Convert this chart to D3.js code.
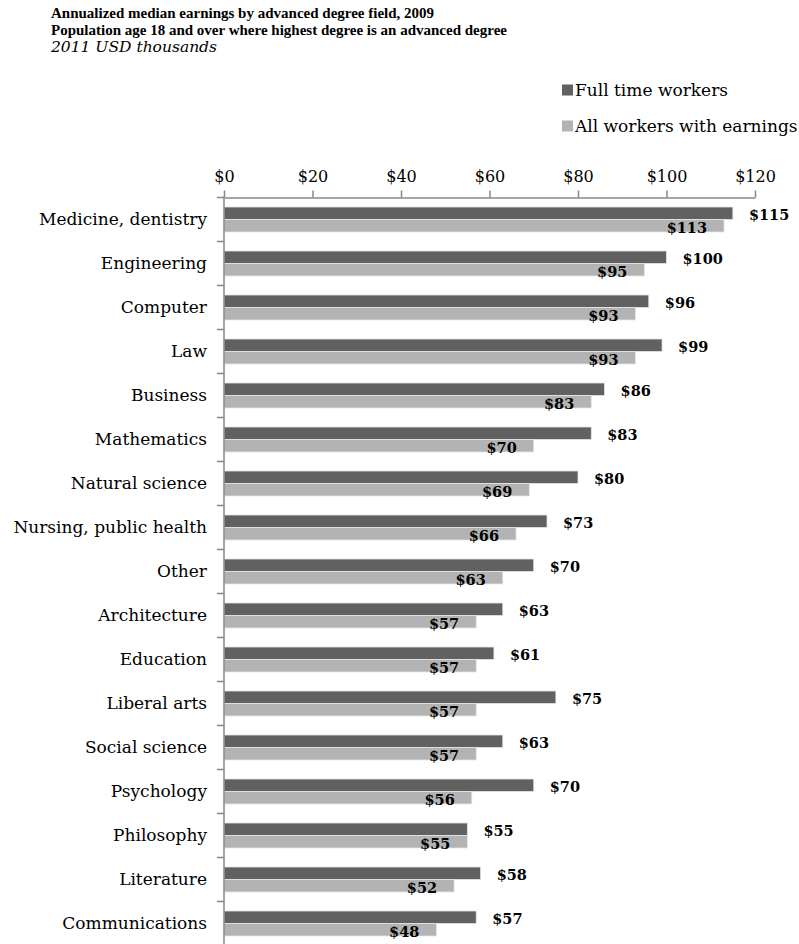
<!DOCTYPE html>
<html>
<head>
<meta charset="utf-8">
<script src="https://cdn.jsdelivr.net/npm/d3@7"></script>
<style>
  html, body { margin: 0; padding: 0; background: #fff; }
  svg { display: block; }
  text { font-family: "DejaVu Serif", serif; }
</style>
</head>
<body>
<svg id="chart" width="799" height="944"></svg>
<script>
const categories = ["Medicine, dentistry", "Engineering", "Computer", "Law", "Business", "Mathematics",
  "Natural science", "Nursing, public health", "Other", "Architecture", "Education", "Liberal arts",
  "Social science", "Psychology", "Philosophy", "Literature", "Communications"];
const seriesNames = ["Full time workers", "All workers with earnings"];
const fullTime = [115, 100, 96, 99, 86, 83, 80, 73, 70, 63, 61, 75, 63, 70, 55, 58, 57];
const allWorkers = [113, 95, 93, 93, 83, 70, 69, 66, 63, 57, 57, 57, 57, 56, 55, 52, 48];
const xTicks = [0, 20, 40, 60, 80, 100, 120];
const titleLines = ["Annualized median earnings by advanced degree field, 2009",
  "Population age 18 and over where highest degree is an advanced degree"];
const subtitle = "2011 USD thousands";

const colors = ["#616161", "#b3b3b3"];
const svg = d3.select("#chart");

const x0 = 224, x1 = 755, yTop = 197.5, step = 44;
const x = d3.scaleLinear().domain([0, 120]).range([x0, x1]);
const y = d3.scaleBand().domain(categories)
  .range([yTop, yTop + step * categories.length])
  .paddingInner(19 / 44).paddingOuter(9.5 / 44);
const ySub = d3.scaleBand().domain(seriesNames).range([0, y.bandwidth()]);

// Title
const t = svg.append("g");
titleLines.forEach((s, i) => {
  t.append("text").attr("x", 51).attr("y", 18 + i * 17)
    .style("font-family", "'Liberation Serif', serif")
    .style("font-size", "15px").style("font-weight", "bold").attr("fill", "#000").text(s);
});
t.append("text").attr("x", 51).attr("y", 52)
  .style("font-family", "'DejaVu Serif', serif")
  .style("font-size", "15.5px").style("font-style", "italic").attr("fill", "#000").text(subtitle);

// Legend
const leg = svg.append("g");
seriesNames.forEach((s, i) => {
  const cy = 90 + i * 36;
  leg.append("rect").attr("x", 562).attr("y", cy - 5.5).attr("width", 11).attr("height", 11)
    .attr("fill", colors[i]);
  leg.append("text").attr("x", 575).attr("y", cy + 6).attr("font-size", 17)
    .attr("fill", "#000").text(s);
});

// X axis (top)
const xAxis = d3.axisTop(x).tickValues(xTicks).tickFormat(d => "$" + d).tickSize(7).tickSizeOuter(0);
const gx = svg.append("g").attr("transform", `translate(0,${yTop})`).call(xAxis);
gx.select(".domain").attr("stroke", "#878787").attr("stroke-width", 1.5);
gx.selectAll(".tick line").attr("stroke", "#878787").attr("stroke-width", 1.5);
gx.selectAll(".tick text").style("font-family", "'DejaVu Serif', serif").style("font-size", "16px")
  .attr("fill", "#000").attr("dy", "-0.35em");

// Bars
const rows = categories.map((c, i) => ({ c, vals: [fullTime[i], allWorkers[i]] }));
const g = svg.append("g");
rows.forEach(r => {
  r.vals.forEach((v, k) => {
    const yy = y(r.c) + ySub(seriesNames[k]);
    g.append("rect").attr("x", x(0)).attr("y", yy)
      .attr("width", x(v) - x(0)).attr("height", ySub.bandwidth())
      .attr("fill", colors[k]).attr("stroke", "#e6e6e6").attr("stroke-width", 0.8);
  });
});

// Y axis (left)
const yAxisLine = svg.append("g");
yAxisLine.append("line").attr("x1", x0).attr("x2", x0).attr("y1", yTop - 1).attr("y2", 944)
  .attr("stroke", "#878787").attr("stroke-width", 1.5);
d3.range(categories.length + 1).forEach(i => {
  const yy = yTop + i * y.step();
  yAxisLine.append("line").attr("x1", x0 - 7).attr("x2", x0).attr("y1", yy).attr("y2", yy)
    .attr("stroke", "#878787").attr("stroke-width", 1.5);
});
categories.forEach(c => {
  svg.append("text").attr("x", x0 - 17).attr("y", y(c) + y.bandwidth() / 2)
    .attr("dy", "0.35em").attr("text-anchor", "end").attr("font-size", 17)
    .attr("fill", "#000").text(c);
});

// Data labels
rows.forEach(r => {
  const yd = y(r.c) + ySub(seriesNames[0]) + ySub.bandwidth() / 2 + 2;
  svg.append("text").attr("x", x(r.vals[0]) + 16).attr("y", yd).attr("dy", "0.35em")
    .attr("font-size", 14.5).attr("font-weight", "bold").attr("fill", "#000").text("$" + r.vals[0]);
  const yl = y(r.c) + ySub(seriesNames[1]) + ySub.bandwidth() / 2 + 2;
  svg.append("text").attr("x", x(r.vals[1]) - 17).attr("y", yl).attr("dy", "0.35em")
    .attr("text-anchor", "end")
    .attr("font-size", 14.5).attr("font-weight", "bold").attr("fill", "#000").text("$" + r.vals[1]);
});
</script>
</body>
</html>
